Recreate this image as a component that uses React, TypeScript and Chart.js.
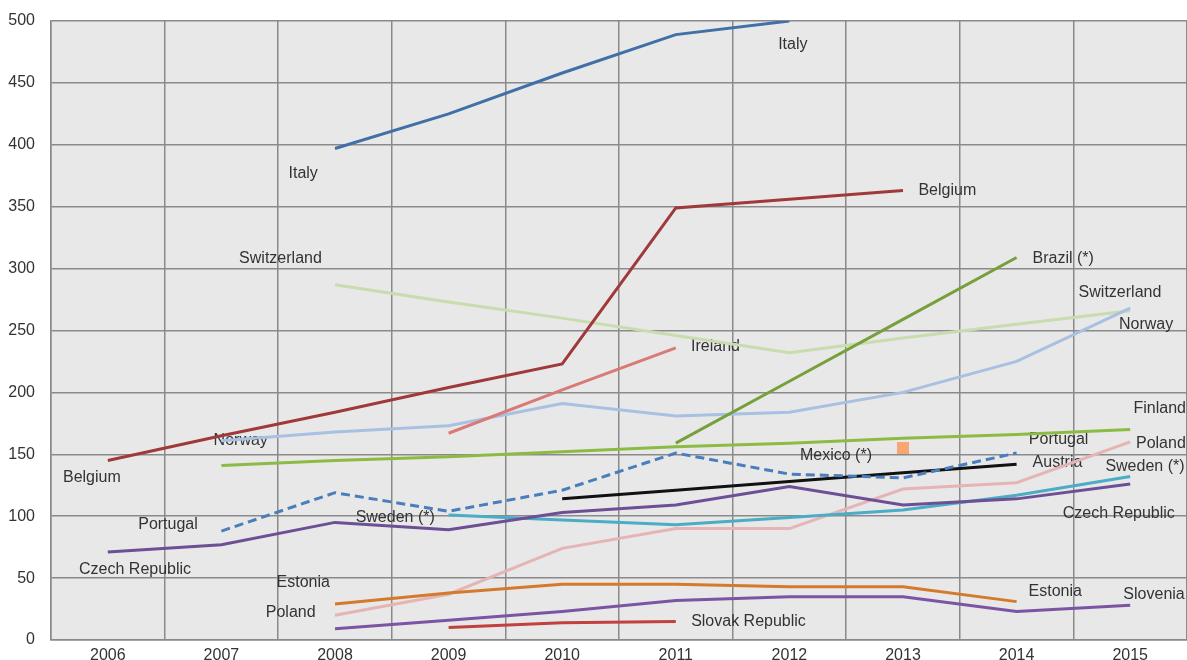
import { useEffect, useRef } from 'react';
import { Chart, registerables } from 'chart.js';

Chart.register(...registerables);

// Years on the horizontal axis
const years = ['2006', '2007', '2008', '2009', '2010', '2011', '2012', '2013', '2014', '2015'];

// Series values per year (null = no observation)
const italy = [null, null, 397, 425, 458, 489, 500, null, null, null];
const belgium = [145, 165, 184, 204, 223, 349, 356, 363, null, null];
const switzerland = [null, null, 287, 273, 260, 246, 232, 244, 255, 266];
const norway = [null, 161, 168, 173, 191, 181, 184, 200, 225, 268];
const ireland = [null, null, null, 167, 202, 236, null, null, null, null];
const brazil = [null, null, null, null, null, 159, 209, 259, 309, null];
const finland = [null, 141, 145, 148, 152, 156, 159, 163, 166, 170];
const portugal = [null, 88, 119, 104, 121, 151, 134, 131, 151, null];
const austria = [null, null, null, null, 114, 121, 128, 135, 142, null];
const czechRepublic = [71, 77, 95, 89, 103, 109, 124, 109, 114, 126];
const sweden = [null, null, null, 101, 97, 93, 99, 105, 117, 132];
const poland = [null, null, 20, 37, 74, 90, 90, 122, 127, 160];
const estonia = [null, null, 29, 38, 45, 45, 43, 43, 31, null];
const slovenia = [null, null, 9, 16, 23, 32, 35, 35, 23, 28];
const slovakRepublic = [null, null, null, 10, 14, 15, null, null, null, null];
const mexico = [null, null, null, null, null, null, null, 155, null, null];

// Value axis ticks
const yTicks = [0, 50, 100, 150, 200, 250, 300, 350, 400, 450, 500];

// Series names written beside the lines, anchored in axis units (year index, value)
const seriesLabels: [string, number, number][] = [
  ['Italy', 6.03, 481],
  ['Italy', 1.72, 377],
  ['Belgium', 7.39, 363],
  ['Switzerland', 1.52, 308],
  ['Brazil (*)', 8.41, 308],
  ['Switzerland', 8.91, 281],
  ['Norway', 9.14, 255],
  ['Ireland', 5.35, 237],
  ['Norway', 1.17, 161],
  ['Finland', 9.26, 187],
  ['Belgium', -0.14, 131],
  ['Portugal', 8.37, 162],
  ['Poland', 9.27, 159],
  ['Mexico (*)', 6.41, 149],
  ['Austria', 8.36, 143],
  ['Sweden (*)', 9.13, 140],
  ['Portugal', 0.53, 93],
  ['Sweden (*)', 2.53, 98.5],
  ['Czech Republic', 8.9, 102],
  ['Czech Republic', 0.24, 57],
  ['Estonia', 1.72, 46],
  ['Poland', 1.61, 22],
  ['Estonia', 8.34, 39],
  ['Slovenia', 9.21, 37],
  ['Slovak Republic', 5.64, 15],
];

const FONT = '"Liberation Sans", Arial, sans-serif';
const TEXT = '#333333';
const GRID = '#8a8a8a';

const line = (label: string, data: (number | null)[], color: string, extra: object = {}) => ({
  label,
  data,
  borderColor: color,
  backgroundColor: color,
  borderWidth: 3,
  pointRadius: 0,
  tension: 0,
  spanGaps: false,
  ...extra,
});

const noScalePadding = (s: any) => {
  s.paddingTop = 0;
  s.paddingBottom = 0;
  s.paddingLeft = 0;
  s.paddingRight = 0;
};

const plotBackground = {
  id: 'plotBackground',
  beforeDraw(chart: any) {
    const { ctx, chartArea } = chart;
    ctx.save();
    ctx.fillStyle = '#e8e8e8';
    ctx.fillRect(chartArea.left, chartArea.top, chartArea.right - chartArea.left, chartArea.bottom - chartArea.top);
    ctx.restore();
  },
};

const lineNames = {
  id: 'lineNames',
  beforeDatasetsDraw(chart: any) {
    const { ctx } = chart;
    const xs = chart.scales.x;
    const ys = chart.scales.y;
    ctx.save();
    ctx.font = `16px ${FONT}`;
    ctx.fillStyle = TEXT;
    ctx.textAlign = 'center';
    ctx.textBaseline = 'middle';
    for (const [text, xi, v] of seriesLabels) {
      ctx.fillText(text, xs.getPixelForValue(xi), ys.getPixelForValue(v));
    }
    ctx.restore();
  },
};

export default function App() {
  const canvasRef = useRef<HTMLCanvasElement | null>(null);

  useEffect(() => {
    if (!canvasRef.current) return;
    const chart = new Chart(canvasRef.current, {
      type: 'line',
      data: {
        labels: years,
        datasets: [
          line('Mexico (*)', mexico, '#f8a673', {
            showLine: false,
            pointStyle: 'rect',
            pointRadius: 8.5,
            pointBorderWidth: 0,
          }),
          line('Portugal', portugal, '#4a7ebb', { borderDash: [9, 5] }),
          line('Austria', austria, '#111111'),
          line('Italy', italy, '#4170a8'),
          line('Belgium', belgium, '#a0393a'),
          line('Brazil (*)', brazil, '#77a03c'),
          line('Ireland', ireland, '#d97a77'),
          line('Finland', finland, '#8cbb44'),
          line('Czech Republic', czechRepublic, '#6c4f94'),
          line('Sweden (*)', sweden, '#4bacc6'),
          line('Estonia', estonia, '#d37a2c'),
          line('Slovenia', slovenia, '#7b55a3'),
          line('Slovak Republic', slovakRepublic, '#c0413f'),
          line('Poland', poland, '#e5b4b4'),
          line('Norway', norway, '#a8c0e2'),
          line('Switzerland', switzerland, '#c8dcae'),
        ],
      },
      options: {
        animation: false,
        responsive: true,
        maintainAspectRatio: false,
        layout: { autoPadding: false, padding: { top: 21, right: 0, bottom: 0, left: 0 } },
        plugins: {
          legend: { display: false },
          tooltip: { enabled: false },
        },
        scales: {
          x: {
            type: 'category',
            offset: true,
            afterFit: (s: any) => {
              s.height = 20;
              noScalePadding(s);
            },
            grid: { offset: true, color: GRID, lineWidth: 1.5, drawTicks: false },
            border: { color: GRID, width: 1.5 },
            ticks: { padding: 6, color: TEXT, font: { family: FONT, size: 16 }, maxRotation: 0, autoSkip: false },
          },
          y: {
            min: yTicks[0],
            max: yTicks[yTicks.length - 1],
            afterFit: (s: any) => {
              s.width = 51;
              noScalePadding(s);
            },
            afterBuildTicks: (s: any) => {
              s.ticks = yTicks.map((value) => ({ value }));
            },
            grid: { color: GRID, lineWidth: 1.5, drawTicks: false },
            border: { color: GRID, width: 1.5 },
            ticks: { padding: 16, color: TEXT, font: { family: FONT, size: 16 } },
          },
        },
      },
      plugins: [plotBackground, lineNames],
    });
    return () => chart.destroy();
  }, []);

  return (
    <div style={{ position: 'absolute', left: 0, top: 0, width: 1187, height: 660, background: '#ffffff' }}>
      <canvas ref={canvasRef} />
    </div>
  );
}
